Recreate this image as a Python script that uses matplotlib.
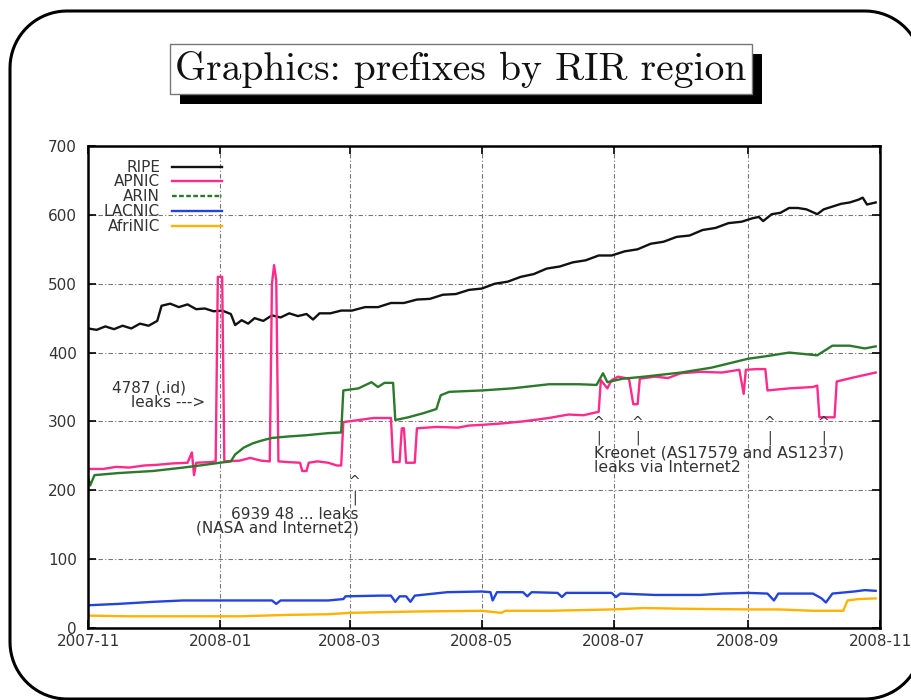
import matplotlib
matplotlib.use("Agg")
import matplotlib.pyplot as plt
import matplotlib.dates as mdates
import numpy as np
from matplotlib.patches import PathPatch, Rectangle
from matplotlib.path import Path
from matplotlib.transforms import IdentityTransform

# prefix counts per RIR region, Nov 2007 .. Oct 2008
ripe_dates = ["2007-11-01", "2007-11-05", "2007-11-09", "2007-11-13", "2007-11-17", "2007-11-21",
              "2007-11-25", "2007-11-29", "2007-12-03", "2007-12-05", "2007-12-09", "2007-12-13",
              "2007-12-17", "2007-12-21", "2007-12-25", "2007-12-29", "2008-01-02", "2008-01-06",
              "2008-01-08", "2008-01-11", "2008-01-14", "2008-01-17", "2008-01-21", "2008-01-25",
              "2008-01-29", "2008-02-02", "2008-02-06", "2008-02-10", "2008-02-13", "2008-02-16",
              "2008-02-21", "2008-02-26", "2008-03-02", "2008-03-08", "2008-03-14", "2008-03-20",
              "2008-03-26", "2008-04-01", "2008-04-07", "2008-04-13", "2008-04-19", "2008-04-25",
              "2008-05-01", "2008-05-07", "2008-05-13", "2008-05-19", "2008-05-25", "2008-05-31",
              "2008-06-06", "2008-06-12", "2008-06-18", "2008-06-24", "2008-06-30", "2008-07-06",
              "2008-07-12", "2008-07-18", "2008-07-24", "2008-07-30", "2008-08-05", "2008-08-11",
              "2008-08-17", "2008-08-23", "2008-08-29", "2008-09-03", "2008-09-06", "2008-09-08",
              "2008-09-12", "2008-09-16", "2008-09-20", "2008-09-24", "2008-09-28", "2008-10-03",
              "2008-10-06", "2008-10-10", "2008-10-14", "2008-10-18", "2008-10-22", "2008-10-24",
              "2008-10-26", "2008-10-30"]
ripe = [435, 433, 438, 434, 439, 435, 442, 439, 446, 468, 471, 466,
        470, 463, 464, 460, 461, 456, 440, 447, 442, 450, 446, 454,
        451, 457, 453, 456, 448, 457, 457, 461, 461, 466, 466, 472,
        472, 477, 478, 484, 485, 491, 493, 500, 503, 510, 514, 522,
        525, 531, 534, 541, 541, 547, 550, 558, 561, 568, 570, 578,
        581, 588, 590, 595, 597, 591, 601, 603, 610, 610, 608, 601,
        608, 612, 616, 618, 622, 625, 615, 618]

apnic_dates = ["2007-11-01", "2007-11-08", "2007-11-14", "2007-11-20", "2007-11-27", "2007-12-03",
               "2007-12-10", "2007-12-17", "2007-12-19", "2007-12-20", "2007-12-21", "2007-12-28",
               "2007-12-30", "2007-12-31", "2008-01-02", "2008-01-03", "2008-01-10", "2008-01-15",
               "2008-01-20", "2008-01-24", "2008-01-25", "2008-01-26", "2008-01-27", "2008-01-28",
               "2008-02-01", "2008-02-07", "2008-02-08", "2008-02-10", "2008-02-11", "2008-02-15",
               "2008-02-20", "2008-02-24", "2008-02-26", "2008-02-27", "2008-03-05", "2008-03-12",
               "2008-03-20", "2008-03-21", "2008-03-24", "2008-03-25", "2008-03-26", "2008-03-27",
               "2008-03-31", "2008-04-01", "2008-04-10", "2008-04-20", "2008-04-25", "2008-05-01",
               "2008-05-10", "2008-05-20", "2008-06-01", "2008-06-10", "2008-06-17", "2008-06-24",
               "2008-06-25", "2008-06-28", "2008-06-30", "2008-07-03", "2008-07-08", "2008-07-10",
               "2008-07-12", "2008-07-13", "2008-07-20", "2008-07-26", "2008-08-01", "2008-08-10",
               "2008-08-20", "2008-08-28", "2008-08-30", "2008-08-31", "2008-09-05", "2008-09-09",
               "2008-09-10", "2008-09-20", "2008-10-01", "2008-10-03", "2008-10-04", "2008-10-11",
               "2008-10-12", "2008-10-20", "2008-10-30"]
apnic = [231, 231, 234, 233, 236, 237,
         239, 240, 255, 222, 240, 241,
         242, 510, 510, 242, 243, 247,
         243, 242, 500, 527, 505, 242,
         241, 240, 228, 228, 240, 242,
         240, 236, 236, 299, 302, 305,
         305, 241, 241, 290, 290, 240,
         240, 290, 292, 291, 294, 295,
         297, 300, 305, 310, 309, 314,
         360, 348, 360, 365, 362, 325,
         325, 362, 365, 363, 370, 372,
         371, 375, 340, 375, 376, 376,
         345, 348, 350, 352, 306, 306,
         358, 364, 371]

arin_dates = ["2007-11-01", "2007-11-02", "2007-11-04", "2007-11-15", "2007-12-01", "2007-12-15",
              "2007-12-25", "2008-01-01", "2008-01-06", "2008-01-08", "2008-01-12", "2008-01-16",
              "2008-01-20", "2008-01-25", "2008-02-01", "2008-02-10", "2008-02-20", "2008-02-26",
              "2008-02-27", "2008-03-05", "2008-03-11", "2008-03-14", "2008-03-17", "2008-03-21",
              "2008-03-22", "2008-03-28", "2008-04-04", "2008-04-10", "2008-04-12", "2008-04-16",
              "2008-05-01", "2008-05-15", "2008-06-01", "2008-06-15", "2008-06-23", "2008-06-26",
              "2008-06-28", "2008-07-05", "2008-07-15", "2008-08-01", "2008-08-15", "2008-09-01",
              "2008-09-10", "2008-09-20", "2008-10-03", "2008-10-10", "2008-10-18", "2008-10-25",
              "2008-10-30"]
arin = [220, 207, 222, 225, 228, 233,
        237, 240, 242, 252, 262, 268,
        272, 276, 278, 280, 283, 284,
        345, 348, 357, 350, 356, 356,
        302, 306, 312, 318, 338, 343,
        345, 348, 354, 354, 353, 370,
        357, 362, 365, 371, 378, 391,
        395, 400, 396, 410, 410, 406,
        409]

lacnic_dates = ["2007-11-01", "2007-11-15", "2007-12-01", "2007-12-15", "2008-01-01", "2008-01-25",
                "2008-01-27", "2008-01-29", "2008-02-20", "2008-02-27", "2008-02-28", "2008-03-15",
                "2008-03-20", "2008-03-22", "2008-03-24", "2008-03-27", "2008-03-29", "2008-03-31",
                "2008-04-15", "2008-05-01", "2008-05-05", "2008-05-06", "2008-05-08", "2008-05-20",
                "2008-05-22", "2008-05-24", "2008-06-05", "2008-06-07", "2008-06-09", "2008-06-30",
                "2008-07-02", "2008-07-04", "2008-07-20", "2008-08-10", "2008-08-20", "2008-09-01",
                "2008-09-10", "2008-09-13", "2008-09-15", "2008-10-01", "2008-10-05", "2008-10-07",
                "2008-10-10", "2008-10-20", "2008-10-25", "2008-10-30"]
lacnic = [33, 35, 38, 40, 40, 40,
          35, 40, 40, 42, 46, 47,
          47, 38, 46, 46, 38, 47,
          52, 53, 52, 40, 52, 52,
          46, 52, 51, 45, 51, 51,
          45, 50, 48, 48, 50, 51,
          50, 40, 50, 50, 43, 37,
          50, 53, 55, 54]

afrinic_dates = ["2007-11-01", "2007-11-20", "2007-12-15", "2008-01-10", "2008-02-01", "2008-02-20",
                 "2008-03-01", "2008-04-01", "2008-05-01", "2008-05-10", "2008-05-12", "2008-06-01",
                 "2008-07-01", "2008-07-15", "2008-08-01", "2008-09-01", "2008-09-15", "2008-10-01",
                 "2008-10-15", "2008-10-17", "2008-10-22", "2008-10-30"]
afrinic = [18, 17, 17, 17, 19, 20,
           22, 24, 25, 22, 25, 25,
           27, 29, 28, 27, 27, 25,
           25, 40, 42, 43]

series = [("RIPE", ripe_dates, ripe, "#111111"),
          ("APNIC", apnic_dates, apnic, "#ff2a8a"),
          ("ARIN", arin_dates, arin, "#2b7a2b"),
          ("LACNIC", lacnic_dates, lacnic, "#2244dd"),
          ("AfriNIC", afrinic_dates, afrinic, "#ffb300")]

txt = "#333333"
fig = plt.figure(figsize=(9.12, 7), dpi=100)
ax = fig.add_axes([88/912, 1-628/700, 792/912, 482/700])

for name, d, v, c in series:
    ax.plot(np.array(d, dtype="datetime64[D]"), v, color=c, lw=1.7)

ax.set_xlim(np.datetime64("2007-11-01"), np.datetime64("2008-11-01"))
ax.set_ylim(0, 700)
ax.set_yticks(range(0, 701, 100))
ax.xaxis.set_major_locator(mdates.MonthLocator(bymonth=[1, 3, 5, 7, 9, 11]))
ax.xaxis.set_major_formatter(mdates.DateFormatter("%Y-%m"))
ax.tick_params(direction="in", length=6, width=1.2, top=True, right=True,
               labelsize=11, labelcolor=txt)
ax.tick_params(axis="y", pad=8)
ax.tick_params(axis="x", pad=4)
ax.grid(True, color="#777777", linestyle=(0, (4, 2, 1, 2)), lw=0.8)
for s in ax.spines.values():
    s.set_linewidth(1.8)

# key, labels right aligned next to short line samples
key_y = [0.956, 0.927, 0.896, 0.865, 0.834]
for (name, d, v, c), ky in zip(series, key_y):
    ax.text(0.091, ky, name, transform=ax.transAxes, ha="right", va="center",
            fontsize=11, color=txt)
    ls = (0, (2, 1)) if name == "ARIN" else "-"
    ax.plot([0.106, 0.169], [ky, ky], transform=ax.transAxes, color=c, lw=1.7, ls=ls)

# leak annotations
ax.text(np.datetime64("2007-11-12"), 348, "4787 (.id)", fontsize=11, color=txt, va="center")
ax.text(np.datetime64("2007-11-21"), 328, "leaks --->", fontsize=11, color=txt, va="center")
ax.text(np.datetime64("2008-03-05"), 155, "6939 48 ... leaks\n(NASA and Internet2)",
        fontsize=11, color=txt, ha="right", va="center", multialignment="right",
        linespacing=0.95)
ax.text(np.datetime64("2008-03-03"), 212, "^", fontsize=10, color=txt, ha="center", va="center")
ax.text(np.datetime64("2008-03-03"), 189, "|", fontsize=10, color=txt, ha="center", va="center")
for d in ["2008-06-24", "2008-07-12", "2008-09-11", "2008-10-06"]:
    ax.text(np.datetime64(d), 298, "^", fontsize=10, color=txt, ha="center", va="center")
    ax.text(np.datetime64(d), 276, "|", fontsize=10, color=txt, ha="center", va="center")
ax.text(np.datetime64("2008-06-22"), 243, "Kreonet (AS17579 and AS1237)\nleaks via Internet2",
        fontsize=11.3, color=txt, ha="left", va="center", linespacing=0.95)

# slide frame with rounded corners, pixel coordinates (y up), right side runs off the page
ident = IdentityTransform()
x0, x1, y0, y1, r = 10, 922, 1, 689, 57
t = np.linspace(0, np.pi / 2, 20)
corners = [(x1 - r, y1 - r, t), (x0 + r, y1 - r, t + np.pi / 2),
           (x0 + r, y0 + r, t + np.pi), (x1 - r, y0 + r, t + 3 * np.pi / 2)]
verts = np.vstack([np.column_stack([cx + r * np.cos(a), cy + r * np.sin(a)])
                   for cx, cy, a in corners])
verts = np.vstack([verts, verts[:1]])
fig.add_artist(PathPatch(Path(verts), transform=ident, fill=False, lw=2.2, ec="black"))

# title box with drop shadow
fig.add_artist(Rectangle((180, 700 - 104), 582, 50, transform=ident, fc="black", ec="none"))
fig.add_artist(Rectangle((170, 700 - 94), 582, 50, transform=ident, fc="white",
                         ec="#777777", lw=1))
fig.text(461/912, 1-70/700, "Graphics: prefixes by RIR region", family="cmr10",
         fontsize=28.5, ha="center", va="center", color="#111111")

fig.savefig("out.png", dpi=100)
